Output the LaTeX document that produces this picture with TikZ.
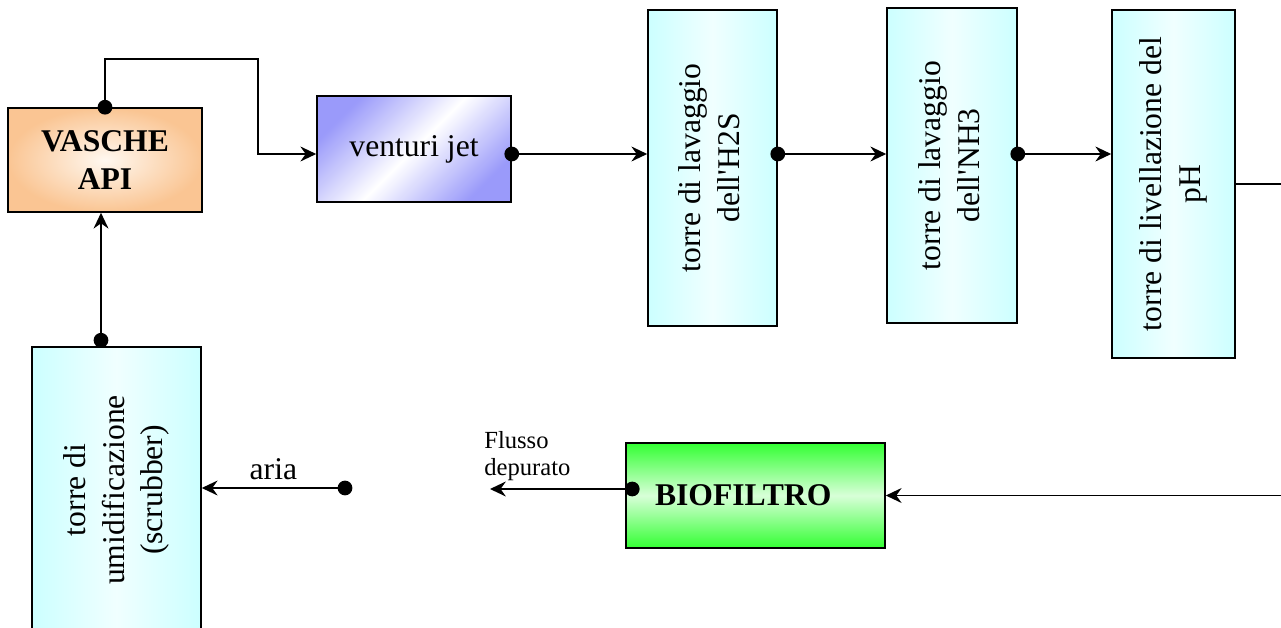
\documentclass[tikz,border=0pt]{standalone}
\usepackage{fontspec}
\setmainfont{Liberation Serif}
\usetikzlibrary{arrows.meta,calc}
\definecolor{vascheC}{HTML}{FAC593}
\definecolor{vascheM}{HTML}{FFF8F0}
\definecolor{ventC}{HTML}{9A9AFA}
\definecolor{torreC}{HTML}{CCFFFF}
\definecolor{torreM}{HTML}{F0FFFF}
\definecolor{bioC}{HTML}{33FF33}
\definecolor{bioM}{HTML}{D8FFD8}
\tikzset{
  blocco/.style={draw=black,line width=0.9pt,inner sep=0pt,align=center,
    font=\fontsize{18}{22}\selectfont},
  torre/.style={blocco,left color=torreC,right color=torreC,middle color=torreM},
  freccia/.style={-{Stealth[length=9pt,width=8.5pt,inset=3pt]},line width=1pt},
  linea/.style={line width=1pt},
}
\newcommand{\vtesto}[1]{\rotatebox{90}{\begin{tabular}{@{}c@{}}#1\end{tabular}}}

\begin{document}
\begin{tikzpicture}[x=0.02cm,y=-0.02cm]
  \useasboundingbox (0,0) rectangle (1281,628);
  % blocchi
  \node[blocco,inner color=vascheM,outer color=vascheC,minimum width=3.88cm,
    minimum height=2.08cm,font=\fontsize{18}{22}\selectfont\bfseries]
    (vasche) at (105,160) {VASCHE\\API};
  \node[blocco,left color=ventC,right color=ventC,middle color=white,shading angle=45,
    minimum width=3.88cm,minimum height=2.12cm] (venturi) at (414,149) {venturi jet};
  \node[torre,minimum width=2.58cm,minimum height=6.32cm] (htwos) at (712.5,168)
    {\vtesto{torre di lavaggio\\dell\textquotesingle H2S}};
  \node[torre,minimum width=2.6cm,minimum height=6.3cm] (nhtre) at (952,165.5)
    {\vtesto{torre di lavaggio\\dell\textquotesingle NH3}};
  \node[torre,minimum width=2.46cm,minimum height=6.96cm] (ph) at (1173.5,184)
    {\vtesto{torre di livellazione del\\pH}};
  \node[torre,minimum width=3.38cm,minimum height=5.72cm] (scrubber) at (116.5,490)
    {\vtesto{torre di\\umidificazione\\(scrubber)}};
  \node[blocco,top color=bioC,bottom color=bioC,middle color=bioM,minimum width=5.18cm,
    minimum height=2.1cm,font=\fontsize{18}{22}\selectfont\bfseries]
    (bio) at (755.5,495.5) {BIOFILTRO\hspace*{14pt}};
  % punti di appoggio
  \coordinate (riga) at (0,154);
  \coordinate (gomito) at (258,59);
  \coordinate (giro) at (1300,300);
  \coordinate (uscita) at (490,489);
  \coordinate (aria) at (345,488);
  \coordinate (su) at (101,0);
  % collegamenti
  \draw[freccia] (vasche.north) |- (gomito) |- (venturi.west |- riga);
  \fill (vasche.north) circle (4.2pt);
  \draw[freccia] (venturi.east |- riga) -- (htwos.west |- riga);
  \fill (venturi.east |- riga) circle (4.2pt);
  \draw[freccia] (htwos.east |- riga) -- (nhtre.west |- riga);
  \fill (htwos.east |- riga) circle (4.2pt);
  \draw[freccia] (nhtre.east |- riga) -- (ph.west |- riga);
  \fill (nhtre.east |- riga) circle (4.2pt);
  \draw[freccia] (ph.east) -| (giro) |- (bio.east);
  % uscita del biofiltro
  \draw[freccia] (bio.west |- uscita) -- (uscita);
  \fill ($(bio.west |- uscita)+(7,0)$) circle (4.2pt);
  \node[anchor=north west,align=left,inner sep=0pt,font=\fontsize{14}{15.5}\selectfont]
    (flusso) at (484,431) {Flusso\\depurato};
  % aria allo scrubber
  \draw[freccia] (aria) -- (scrubber.east |- aria) node[midway,above,inner sep=4pt,
    font=\fontsize{18}{22}\selectfont] (arialab) {aria};
  \fill (aria) circle (4.2pt);
  \draw[freccia] (scrubber.north -| su) -- (vasche.south -| su);
  \fill (scrubber.north -| su) ++(0,-6) circle (4.2pt);
\end{tikzpicture}
\end{document}
